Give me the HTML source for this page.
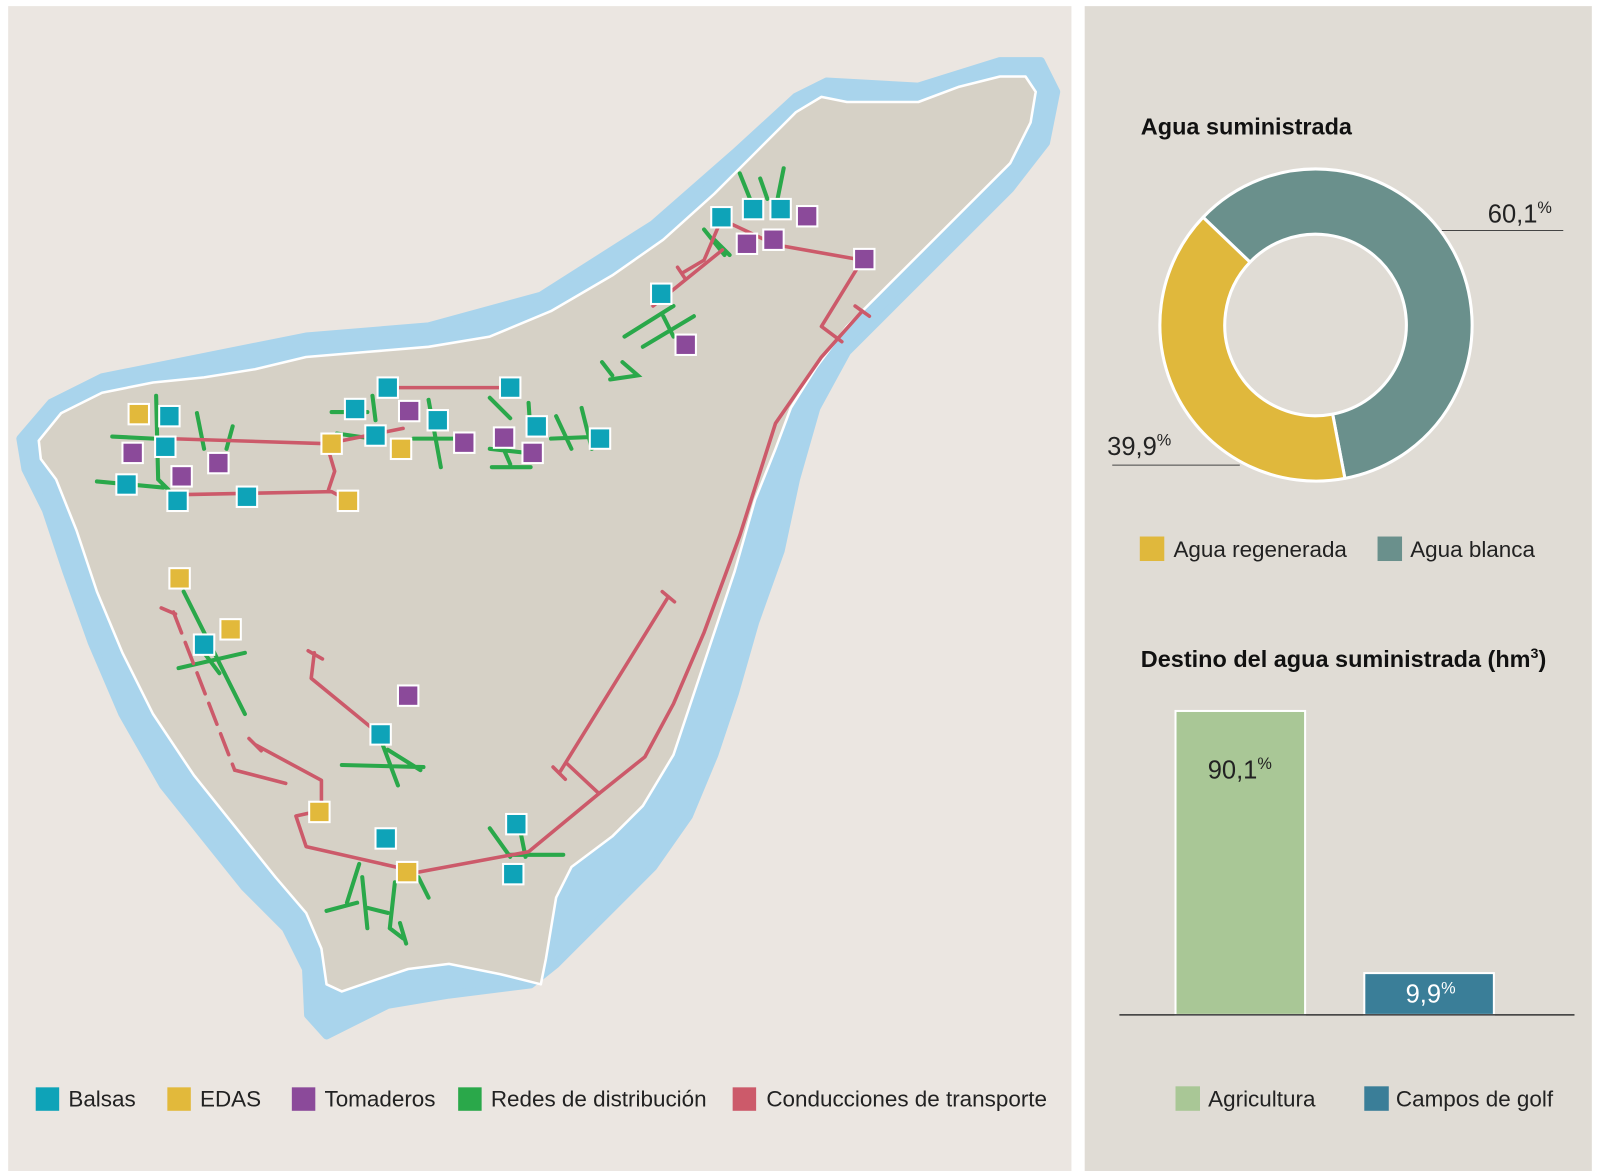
<!DOCTYPE html>
<html><head><meta charset="utf-8"><style>html,body{margin:0;padding:0;background:#fff}svg{display:block}text{font-family:"Liberation Sans",sans-serif}</style></head><body>
<svg width="1600" height="1172" viewBox="0 0 1568 1149" preserveAspectRatio="none" xmlns="http://www.w3.org/2000/svg">
<rect x="0" y="0" width="1568" height="1149" fill="#fff"/>
<rect x="8" y="6" width="1042" height="1142" fill="#ebe6e1"/>
<rect x="1063" y="6" width="497" height="1142" fill="#e0dcd5"/>
<path d="M20,430 L50,395 L100,370 L200,350 L300,330 L420,320 L530,290 L640,220 L720,150 L780,95 L810,80 L900,85 L980,60 L1020,60 L1035,90 L1025,140 L990,185 L940,235 L880,295 L830,345 L800,400 L780,470 L765,540 L740,610 L720,680 L700,740 L675,800 L640,850 L600,890 L570,920 L545,945 L520,965 L440,975 L380,985 L340,1005 L320,1015 L302,995 L300,950 L280,910 L240,870 L200,820 L160,770 L120,700 L90,630 L65,560 L45,500 L25,460 Z" fill="#a9d4ec" stroke="#a9d4ec" stroke-width="8" stroke-linejoin="round"/>
<path d="M38,432 L60,405 L100,385 L150,375 L200,370 L250,362 L300,350 L360,345 L420,340 L480,330 L540,305 L600,270 L650,235 L700,190 L740,150 L780,110 L805,95 L830,100 L900,100 L940,85 L980,75 L1005,75 L1015,90 L1010,120 L990,160 L950,200 L900,250 L860,290 L830,320 L800,360 L775,400 L760,440 L740,490 L720,560 L700,620 L680,680 L660,740 L630,790 L600,820 L560,850 L545,880 L535,940 L530,965 L490,955 L440,945 L400,950 L370,960 L335,972 L320,965 L315,930 L300,895 L270,860 L230,810 L190,760 L150,700 L120,640 L95,580 L75,520 L55,470 L40,450 Z" fill="#d6d1c6" stroke="#fff" stroke-width="2.5" stroke-linejoin="round"/>
<g stroke="#2aa84a" stroke-width="4" fill="none" stroke-linecap="round">
<path d="M110,428 L150,430 M153,388 L155,470 L165,480 M95,472 L160,478 M193,405 L200,440 M228,418 L222,440 M325,404 L360,404 M365,388 L368,412 M420,392 L432,458 M405,430 L460,430 M480,390 L500,410 M518,395 L520,425 M480,440 L525,445 M482,458 L520,458 M490,432 L500,455 M545,408 L560,440 M570,400 L580,440 M540,430 L590,428 M330,425 L365,430 M610,355 L625,368 L598,372 M590,355 L600,368 M612,330 L660,300 M630,340 L680,310 M650,310 L660,330 M690,225 L710,250 M700,235 L715,250 M725,170 L735,195 M745,175 L752,195 M768,165 L762,195 M180,580 L240,700 M175,655 L240,640 M200,640 L215,660 M335,750 L415,752 M375,730 L390,770 M380,735 L412,755 M320,893 L350,885 M340,885 L352,847 M355,860 L360,910 M360,890 L380,895 M387,865 L382,910 M382,910 L395,920 M392,905 L398,925 M410,860 L420,880 M480,812 L500,840 M510,815 L515,840 M500,838 L552,838"/>
</g>
<g stroke="#cc5a6a" stroke-width="3.5" fill="none" stroke-linecap="round" stroke-linejoin="round">
<path d="M165,430 L320,435 L328,462 L322,480 M175,485 L325,482 L340,490 M320,435 L395,420 M380,380 L500,380"/>
<path d="M707,215 L690,255 L668,268 M664,262 L672,274 M707,215 L760,240 L845,255 M708,245 L640,300"/>
<path d="M845,305 L805,350 L760,415 L725,525 L690,620 L660,690 L632,742 L587,778 L518,835 L410,855 L300,830 L290,800 L313,795"/>
<path d="M838,300 L852,310 M845,255 L805,320 L825,335 M655,585 L548,758 M649,580 L661,590 M542,752 L554,764 M555,748 L587,778"/>
<path d="M230,755 L280,768 M250,730 L315,765 L315,795 M244,724 L256,736 M308,640 L305,665 L372,720 M302,638 L316,646"/>
<path d="M170,600 L230,755" stroke-dasharray="22,10"/>
<path d="M158,596 L172,602"/>
</g>
<g stroke="#fff" stroke-width="2">
<g fill="#0ea3b8">
<rect x="156" y="398" width="20" height="20"/><rect x="152" y="428" width="20" height="20"/><rect x="114" y="465" width="20" height="20"/><rect x="164" y="481" width="20" height="20"/><rect x="232" y="477" width="20" height="20"/><rect x="370" y="370" width="20" height="20"/><rect x="338" y="391" width="20" height="20"/><rect x="358" y="417" width="20" height="20"/><rect x="419" y="402" width="20" height="20"/><rect x="490" y="370" width="20" height="20"/><rect x="516" y="408" width="20" height="20"/><rect x="578" y="420" width="20" height="20"/><rect x="697" y="203" width="20" height="20"/><rect x="728" y="195" width="20" height="20"/><rect x="755" y="195" width="20" height="20"/><rect x="638" y="278" width="20" height="20"/><rect x="190" y="622" width="20" height="20"/><rect x="363" y="710" width="20" height="20"/><rect x="368" y="812" width="20" height="20"/><rect x="496" y="798" width="20" height="20"/><rect x="493" y="847" width="20" height="20"/>
</g>
<g fill="#e2b93b">
<rect x="126" y="396" width="20" height="20"/><rect x="315" y="425" width="20" height="20"/><rect x="383" y="430" width="20" height="20"/><rect x="331" y="481" width="20" height="20"/><rect x="166" y="557" width="20" height="20"/><rect x="216" y="607" width="20" height="20"/><rect x="303" y="786" width="20" height="20"/><rect x="389" y="845" width="20" height="20"/>
</g>
<g fill="#8b4a9a">
<rect x="120" y="434" width="20" height="20"/><rect x="168" y="457" width="20" height="20"/><rect x="204" y="444" width="20" height="20"/><rect x="391" y="393" width="20" height="20"/><rect x="445" y="424" width="20" height="20"/><rect x="484" y="419" width="20" height="20"/><rect x="512" y="434" width="20" height="20"/><rect x="781" y="202" width="20" height="20"/><rect x="722" y="229" width="20" height="20"/><rect x="748" y="225" width="20" height="20"/><rect x="837" y="244" width="20" height="20"/><rect x="662" y="328" width="20" height="20"/><rect x="390" y="672" width="20" height="20"/>
</g>
</g>
<g font-size="22" fill="#222">
<rect x="35" y="1066" width="23" height="23" fill="#0ea3b8"/><text x="67" y="1085">Balsas</text>
<rect x="164" y="1066" width="23" height="23" fill="#e2b93b"/><text x="196" y="1085">EDAS</text>
<rect x="286" y="1066" width="23" height="23" fill="#8b4a9a"/><text x="318" y="1085">Tomaderos</text>
<rect x="449" y="1066" width="23" height="23" fill="#2aa84a"/><text x="481" y="1085">Redes de distribución</text>
<rect x="718" y="1066" width="23" height="23" fill="#cc5a6a"/><text x="751" y="1085">Conducciones de transporte</text>
</g>
<text x="1118" y="132" font-size="23" font-weight="bold" fill="#111">Agua suministrada</text>
<g stroke="#fff" stroke-width="3" stroke-linejoin="round">
<path d="M1179,213 A153,153 0 1 1 1318,469 L1306,406 A89,89 0 1 0 1225,257 Z" fill="#6a908c"/>
<path d="M1318,469 A153,153 0 0 1 1179,213 L1225,257 A89,89 0 0 0 1306,406 Z" fill="#e0b83c"/>
</g>
<g font-size="25" fill="#222">
<text x="1458" y="218">60,1<tspan font-size="16" dy="-9">%</tspan></text>
<text x="1085" y="446">39,9<tspan font-size="16" dy="-9">%</tspan></text>
</g>
<line x1="1413" y1="226" x2="1532" y2="226" stroke="#444" stroke-width="1"/>
<line x1="1090" y1="456" x2="1215" y2="456" stroke="#444" stroke-width="1"/>
<g font-size="22" fill="#222">
<rect x="1117" y="526" width="24" height="24" fill="#e0b83c"/><text x="1150" y="546">Agua regenerada</text>
<rect x="1350" y="526" width="24" height="24" fill="#6a908c"/><text x="1382" y="546">Agua blanca</text>
</g>
<text x="1118" y="654" font-size="23" font-weight="bold" fill="#111">Destino del agua suministrada (hm<tspan font-size="14" dy="-9">3</tspan><tspan dy="9">)</tspan></text>
<rect x="1152" y="697" width="127" height="298" fill="#a9c796" stroke="#fff" stroke-width="2"/>
<rect x="1337" y="954" width="127" height="41" fill="#3a7e98" stroke="#fff" stroke-width="2"/>
<line x1="1097" y1="995" x2="1543" y2="995" stroke="#333" stroke-width="1.5"/>
<text x="1215" y="763" font-size="25" fill="#222" text-anchor="middle">90,1<tspan font-size="16" dy="-9">%</tspan></text>
<text x="1402" y="983" font-size="25" fill="#fff" text-anchor="middle">9,9<tspan font-size="16" dy="-9">%</tspan></text>
<g font-size="22" fill="#222">
<rect x="1152" y="1065" width="24" height="24" fill="#a9c796"/><text x="1184" y="1085">Agricultura</text>
<rect x="1337" y="1065" width="24" height="24" fill="#3a7e98"/><text x="1368" y="1085">Campos de golf</text>
</g>
</svg>
</body></html>
